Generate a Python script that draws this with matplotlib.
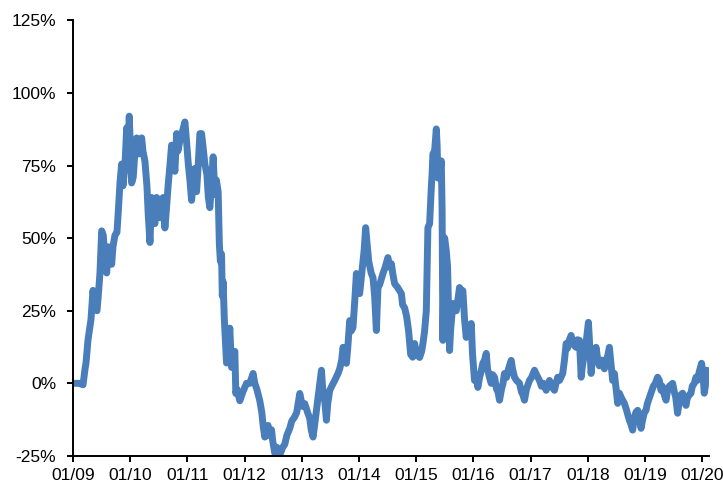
import pandas as pd
import numpy as np
import matplotlib
matplotlib.use('Agg')
import matplotlib.pyplot as plt
import matplotlib.dates as mdates
from matplotlib.ticker import FuncFormatter

# Время в годах от 01.01.2009 и значение ряда, %
years = [
    0.000, 0.105, 0.175, 0.210, 0.227, 0.262, 0.314, 0.349, 0.384, 0.419,
    0.437, 0.471, 0.501, 0.529, 0.559, 0.588, 0.616, 0.646, 0.676, 0.698,
    0.733, 0.768, 0.791, 0.821, 0.850, 0.873, 0.908, 0.938, 0.960, 0.983,
    1.004, 1.025, 1.053, 1.083, 1.112, 1.152, 1.200, 1.222, 1.257, 1.292,
    1.315, 1.345, 1.374, 1.397, 1.432, 1.462, 1.484, 1.519, 1.545, 1.577,
    1.606, 1.633, 1.664, 1.694, 1.723, 1.746, 1.781, 1.811, 1.833, 1.868,
    1.903, 1.956, 1.982, 2.013, 2.043, 2.073, 2.104, 2.130, 2.160, 2.188,
    2.218, 2.247, 2.270, 2.305, 2.340, 2.366, 2.392, 2.418, 2.450, 2.479,
    2.506, 2.537, 2.558, 2.576, 2.596, 2.610, 2.624, 2.645, 2.663, 2.684,
    2.706, 2.741, 2.771, 2.794, 2.829, 2.846, 2.864, 2.916, 2.968, 3.033,
    3.091, 3.148, 3.178, 3.213, 3.265, 3.300, 3.326, 3.353, 3.410, 3.440,
    3.470, 3.492, 3.527, 3.562, 3.614, 3.667, 3.702, 3.737, 3.789, 3.824,
    3.876, 3.911, 3.964, 3.990, 4.021, 4.051, 4.109, 4.138, 4.164, 4.196,
    4.226, 4.255, 4.295, 4.343, 4.365, 4.400, 4.430, 4.453, 4.488, 4.522,
    4.575, 4.632, 4.662, 4.697, 4.720, 4.749, 4.779, 4.802, 4.837, 4.863,
    4.894, 4.924, 4.954, 4.976, 5.011, 5.038, 5.069, 5.090, 5.116, 5.142,
    5.169, 5.212, 5.244, 5.273, 5.303, 5.317, 5.331, 5.361, 5.418, 5.457,
    5.505, 5.535, 5.565, 5.588, 5.622, 5.675, 5.740, 5.762, 5.797, 5.832,
    5.867, 5.902, 5.937, 5.972, 6.007, 6.059, 6.094, 6.117, 6.146, 6.176,
    6.190, 6.204, 6.234, 6.263, 6.277, 6.291, 6.321, 6.351, 6.365, 6.379,
    6.408, 6.438, 6.452, 6.466, 6.478, 6.496, 6.525, 6.548, 6.565, 6.583,
    6.600, 6.640, 6.670, 6.700, 6.723, 6.757, 6.784, 6.815, 6.845, 6.874,
    6.906, 6.932, 6.962, 6.984, 7.019, 7.046, 7.077, 7.107, 7.133, 7.164,
    7.194, 7.224, 7.246, 7.281, 7.311, 7.334, 7.369, 7.404, 7.430, 7.456,
    7.491, 7.517, 7.543, 7.578, 7.613, 7.660, 7.683, 7.718, 7.753, 7.805,
    7.840, 7.866, 7.892, 7.927, 7.980, 8.015, 8.067, 8.102, 8.154, 8.189,
    8.224, 8.271, 8.294, 8.329, 8.364, 8.416, 8.443, 8.474, 8.504, 8.561,
    8.591, 8.621, 8.643, 8.678, 8.708, 8.731, 8.765, 8.795, 8.818, 8.853,
    8.883, 8.905, 8.940, 8.975, 9.010, 9.027, 9.057, 9.080, 9.115, 9.144,
    9.167, 9.202, 9.232, 9.254, 9.289, 9.319, 9.342, 9.377, 9.403, 9.434,
    9.464, 9.499, 9.522, 9.551, 9.586, 9.639, 9.673, 9.726, 9.752, 9.783,
    9.813, 9.839, 9.871, 9.900, 9.930, 9.953, 9.988, 10.017, 10.040, 10.075,
    10.105, 10.145, 10.180, 10.220, 10.250, 10.279, 10.302, 10.337, 10.367, 10.389,
    10.424, 10.482, 10.512, 10.538, 10.569, 10.599, 10.625, 10.657, 10.686, 10.716,
    10.739, 10.774, 10.803, 10.826, 10.861, 10.891, 10.913, 10.948, 10.988, 11.009,
    11.035, 11.062, 11.083, 11.105,
]
values = [
    0.0, 0.0, -0.5, 5, 7, 15, 22, 32, 26, 25,
    29, 38, 52.5, 51, 42, 38, 47, 42, 41, 47,
    51, 52, 59, 69, 75.5, 68, 75, 88, 78, 92,
    80, 69, 71, 80, 84.5, 79, 84.5, 80, 76.5, 68,
    58, 48.5, 64, 57, 55, 64, 60, 57, 63, 64,
    53.5, 60, 68.5, 75, 82, 78, 73, 86, 80, 83.5,
    86, 90, 84, 76, 70, 63, 70, 74, 66, 75,
    86, 86, 82, 75.5, 72, 64, 60.5, 68, 78, 65,
    70, 66, 48, 42, 44.5, 30, 35, 22, 15, 7,
    12, 19, 5.5, 9, 11, -3.5, -2, -6, -3, 0,
    0, 3.4, 0, -2, -6, -10, -15, -18.5, -14.5, -18,
    -16, -20, -24, -22, -24.7, -22, -21, -18, -15.5, -13,
    -11.5, -10, -3.5, -6, -8, -7, -10.5, -12, -16, -18.5,
    -14, -9.3, -3, 4.5, -2, -6, -12.7, -7, -2.4, -1,
    1, 3.4, 5, 8, 12.4, 10, 6.9, 12, 21.6, 18,
    19.2, 28, 37.8, 33, 30.9, 36, 42.2, 46, 53.6, 48,
    42, 38, 36.4, 30, 18.2, 26, 33, 34, 37.8, 40,
    43.3, 40, 41.2, 38, 34.3, 33, 30.9, 27, 26, 23,
    18, 10, 9, 13.7, 10, 8.9, 11, 13.7, 18, 25,
    40, 53.6, 55, 67.3, 72, 79, 80, 87.6, 82, 70.7,
    72, 76.6, 60, 14.8, 30, 50.1, 45.7, 40, 25, 11.3,
    18, 27.5, 25, 25, 28, 33, 32, 31.9, 22, 15.8,
    20, 18, 20.6, 10, 1, 3, -1.4, 2, 4, 6.9,
    8, 10.3, 5, 2, 0, 3, 2.1, -2, -3, -5.8,
    -2, 0, 3.4, 2, 5, 7.9, 5, 2.1, 1, 0,
    -3, -4, -5.8, -2, 1, 2, 4.5, 3, 1, -1,
    0, -2.4, -1, 1, -1, -2.4, 0, 2.1, 1, 3.4,
    8, 13.7, 12, 15, 16.5, 14, 13, 12.4, 15, 14.8,
    2.1, 6, 10.3, 15, 21, 15, 3.4, 8, 10, 12.4,
    9, 6, 7.9, 8, 5, 6.9, 9, 12.4, 7, 1,
    3.4, -3, -6.9, -3.4, -5, -6.9, -9, -12.7, -14, -16.1,
    -12, -10, -9.3, -12, -15.5, -13, -10, -9.3, -7, -5,
    -3.4, -1, 0, 2.1, 1, -2.4, -1, -4, -5.8, -3,
    -1, 0, -3, -5, -10.3, -6, -4, -3.4, -6, -7.6,
    -5, -4, -3.4, -1, 0, 2.1, 1, 4, 6.9, 4,
    -3.4, 0, 4.5, 3,
]

yticks = [-25, 0, 25, 50, 75, 100, 125]
xtick_years = list(range(2009, 2021))

start = pd.Timestamp('2009-01-01')
dates = start + pd.to_timedelta(np.array(years) * 365.25, unit='D')

plt.rcParams['font.family'] = ['Liberation Sans', 'DejaVu Sans']

fig = plt.figure(figsize=(7.23, 4.84), dpi=100)
ax = fig.add_axes([0.101, 0.058, 0.879, 0.9])

ax.plot(dates, values, color='#4a7ebb', linewidth=5,
        solid_joinstyle='round', solid_capstyle='round')

ax.set_ylim(-25, 125)
ax.set_yticks(yticks)
ax.yaxis.set_major_formatter(FuncFormatter(lambda v, p: f'{v:.0f}%'))

ax.set_xlim(start, start + pd.Timedelta(days=11.11 * 365.25))
ax.set_xticks([pd.Timestamp(f'{y}-01-01') for y in xtick_years])
ax.xaxis.set_major_formatter(mdates.DateFormatter('%m/%y'))

for s in ['top', 'right']:
    ax.spines[s].set_visible(False)
for s in ['left', 'bottom']:
    ax.spines[s].set_linewidth(1.4)

ax.tick_params(axis='both', direction='out', length=4, width=1.4,
               labelsize=12.5, colors='black')
ax.tick_params(axis='y', pad=8)
ax.tick_params(axis='x', pad=5)

fig.savefig('out.png', dpi=100)
